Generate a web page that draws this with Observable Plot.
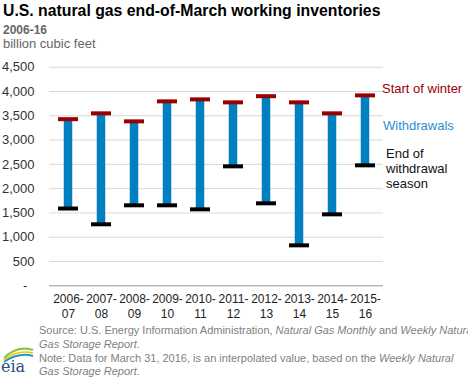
<!DOCTYPE html>
<html>
<head>
<meta charset="utf-8">
<script src="https://cdn.jsdelivr.net/npm/d3@7"></script>
<script src="https://cdn.jsdelivr.net/npm/@observablehq/plot@0.6"></script>
<style>
  html, body { margin: 0; padding: 0; background: #fff; }
  #wrap { position: relative; width: 468px; height: 378px; overflow: hidden; font-family: "Liberation Sans", Arial, sans-serif; }
  #wrap svg { position: absolute; left: 0; top: 0; }
</style>
</head>
<body>
<div id="wrap"></div>
<script>
// ---- data ----
const seasons = ["2006-07","2007-08","2008-09","2009-10","2010-11","2011-12","2012-13","2013-14","2014-15","2015-16"];
const startOfWinter = [3430, 3550, 3385, 3797, 3838, 3776, 3903, 3776, 3550, 3920];
const endOfWithdrawal = [1591, 1266, 1657, 1657, 1574, 2459, 1698, 833, 1471, 2480];
const yTicks = [0, 500, 1000, 1500, 2000, 2500, 3000, 3500, 4000, 4500];

const data = seasons.map((s, i) => ({season: s, start: startOfWinter[i], end: endOfWithdrawal[i]}));

const chart = Plot.plot({
  width: 468,
  height: 378,
  marginLeft: 49,
  marginRight: 85,
  marginTop: 66.7,
  marginBottom: 92.7,
  style: {fontFamily: "'Liberation Sans', Arial, sans-serif", color: "#333", background: "transparent"},
  x: {type: "band", domain: seasons, paddingInner: 0.4, paddingOuter: 0.2, label: null},
  y: {domain: [0, 4500], label: null},
  marks: [
    Plot.gridY(yTicks.filter(d => d > 0), {stroke: "#d9d9d9", strokeOpacity: 1}),
    Plot.ruleY([0], {stroke: "#9a9a9a"}),
    Plot.rectY(data, {x: "season", y1: "end", y2: "start", fill: "#0080c0", insetLeft: 5.75, insetRight: 5.75}),
    Plot.tickY(data, {x: "season", y: "start", stroke: "#990000", strokeWidth: 4}),
    Plot.tickY(data, {x: "season", y: "end", stroke: "#000", strokeWidth: 4}),
    Plot.axisY({ticks: yTicks, tickSize: 0, tickPadding: 15, fontSize: 13, fill: "#333",
      tickFormat: d => d === 0 ? "-\u00a0\u00a0" : d3.format(",")(d)}),
    Plot.axisX({tickSize: 0, tickPadding: 7, fontSize: 12, lineHeight: 1.25, fill: "#222",
      tickFormat: s => s.replace("-", "-\n")})
  ]
});
const wrap = document.getElementById("wrap");
wrap.appendChild(chart);

// ---- overlay texts ----
const ov = d3.select(wrap).append("svg").attr("width", 468).attr("height", 378)
  .style("font-family", "'Liberation Sans', Arial, sans-serif");

ov.append("text").attr("x", 3).attr("y", 16).attr("font-size", 15.8).attr("font-weight", "bold").attr("fill", "#000")
  .text("U.S. natural gas end-of-March working inventories");
ov.append("text").attr("x", 3).attr("y", 34).attr("font-size", 12).attr("font-weight", "bold").attr("fill", "#666")
  .text("2006-16");
ov.append("text").attr("x", 3).attr("y", 47.5).attr("font-size", 13).attr("fill", "#666")
  .text("billion cubic feet");

ov.append("text").attr("x", 382).attr("y", 93).attr("font-size", 13).attr("fill", "#9b0000").text("Start of winter");
ov.append("text").attr("x", 383).attr("y", 130).attr("font-size", 13).attr("fill", "#2a8fd0").text("Withdrawals");
const eow = ["End of", "withdrawal", "season"];
eow.forEach((t, i) => ov.append("text").attr("x", 386).attr("y", 158 + i * 15).attr("font-size", 13).attr("fill", "#111").text(t));

// source / note
const srcLines = [
  [["Source: U.S. Energy Information Administration, ", false], ["Natural Gas Monthly", true], [" and ", false], ["Weekly Natural", true]],
  [["Gas Storage Report", true], [".", false]],
  [["Note: Data for March 31, 2016, is an interpolated value, based on the ", false], ["Weekly Natural", true]],
  [["Gas Storage Report", true], [".", false]]
];
srcLines.forEach((parts, i) => {
  const t = ov.append("text").attr("x", 39).attr("y", 334 + i * 13.8).attr("font-size", 11).attr("fill", "#7f7f7f");
  parts.forEach(([s, it]) => t.append("tspan").attr("font-style", it ? "italic" : "normal").text(s));
});

// eia logo
const logo = ov.append("g");
logo.append("path").attr("d", "M4,358 Q17,345 33,350").attr("fill", "none").attr("stroke", "#8cc63f").attr("stroke-width", 2.2);
logo.append("path").attr("d", "M4,360 Q18,349 33,353").attr("fill", "none").attr("stroke", "#f2c500").attr("stroke-width", 1.6);
logo.append("path").attr("d", "M4,362 Q19,352 33,356").attr("fill", "none").attr("stroke", "#1e9ad6").attr("stroke-width", 2);
logo.append("text").attr("x", 1).attr("y", 372).attr("font-family", "'DejaVu Serif', serif").attr("font-size", 16)
  .attr("fill", "#2b4f80").text("eia");
</script>
</body>
</html>
